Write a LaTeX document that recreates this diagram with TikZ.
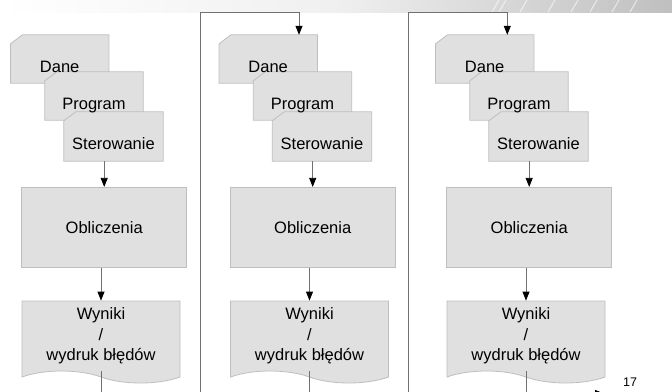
\documentclass[tikz,border=0pt]{standalone}
\usepackage{fontspec}
\setmainfont{Liberation Sans}
\usetikzlibrary{shapes.symbols,arrows.meta,backgrounds}
\definecolor{boxfill}{HTML}{E0E0E0}
\definecolor{boxline}{HTML}{BEBEBE}
\definecolor{flowline}{HTML}{707070}

\begin{document}
\begin{tikzpicture}[x=1pt,y=-1pt]
\tikzset{card style/.style={shape=rectangle, minimum width=98pt, minimum height=48pt, inner sep=0pt,
          text height=26pt, text depth=0pt, font=\fontsize{16.5}{20.5}\selectfont},
         card line/.style={draw=boxline, fill=boxfill, line width=0.8pt},
         calc style/.style={shape=rectangle, draw=boxline, fill=boxfill, line width=0.8pt,
          minimum width=165pt, minimum height=80pt, font=\fontsize{16.5}{20.5}\selectfont},
         doc style/.style={shape=tape, tape bend top=none, tape bend bottom=out and in,
          tape bend height=12pt, draw=boxline, fill=boxfill, line width=0.8pt, minimum width=158pt,
          minimum height=82pt, inner sep=0pt, align=center, font=\fontsize{16.5}{20.5}\selectfont},
         flow/.style={draw=flowline, line width=0.8pt, -{Triangle[length=9pt,width=7pt,black]}}}
\useasboundingbox (0,0) rectangle (672,391);

\shade[left color=white, right color=black!25, middle color=black!6] (0,0) rectangle (672,12);
\foreach \sx in {492,499,520,548,571,590,612,630}
  \draw[white, opacity=0.6, line width=1pt] (\sx,12) -- (\sx+7,0);

\foreach \dx/\i in {0/1, 208.5/2, 425/3} {
  \node[card style] at (59.7+\dx, 59)    (dane\i)  {Dane};
  \node[card style] at (94+\dx, 96)      (prog\i)  {Program};
  \node[card style, minimum width=99pt, minimum height=49pt]
                    at (113.5+\dx, 136.5) (ster\i)  {Sterowanie};
  % karty z obcietym rogiem pod tekstem
  \begin{pgfonlayer}{background}
    \foreach \c in {dane\i, prog\i, ster\i}
      \filldraw[card line] ([yshift=-9pt]\c.north west) -- ([xshift=12pt]\c.north west)
        -- (\c.north east) -- (\c.south east) -- (\c.south west) -- cycle;
  \end{pgfonlayer}
  \node[calc style] at (104.2+\dx, 227.3) (obl\i)   {Obliczenia};
  \node[doc style]  at (101+\dx, 336)    (wyn\i)   {Wyniki\\/\\wydruk błędów};

  \draw[flow] (obl\i.north |- ster\i.south) -- (obl\i.north);
  \draw[flow] (wyn\i.north |- obl\i.south) -- (wyn\i.north);
}

\coordinate (low1) at (200, 400);
\coordinate (in2)  at (299, 12.3);
\coordinate (low2) at (408.3, 400);
\coordinate (in3)  at (507.3, 12.3);
\coordinate (out3) at (604, 393.5);

\draw[flow] (wyn1.south) |- (low1) |- (in2) -- (in2 |- dane2.north);
\draw[flow] (wyn2.south) |- (low2) |- (in3) -- (in3 |- dane3.north);
\draw[flow] (wyn3.south) |- (out3);

\node[font=\fontsize{12.5}{15}\selectfont] at (630, 382.5) (pagenum) {17};
\end{tikzpicture}
\end{document}
